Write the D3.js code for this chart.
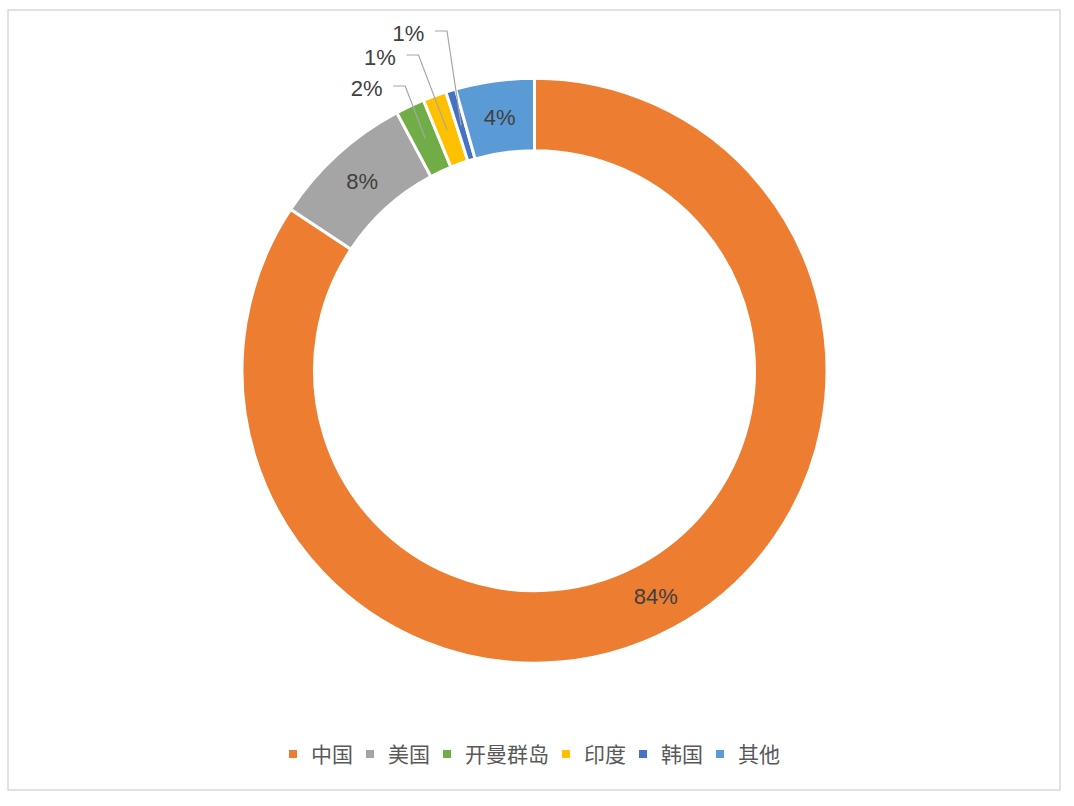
<!DOCTYPE html>
<html>
<head>
<meta charset="utf-8">
<script src="https://cdn.jsdelivr.net/npm/d3@7"></script>
<style>
  html, body { margin: 0; padding: 0; background: #ffffff; }
  svg { display: block; }
</style>
</head>
<body>
<svg id="chart" width="1074" height="806"></svg>
<script>
// ---- data ----
const categories = ["中国", "美国", "开曼群岛", "印度", "韩国", "其他"];
const values = [84.3, 7.9, 1.6, 1.3, 0.55, 4.35];
const colors = ["#ED7D31", "#A5A5A5", "#70AD47", "#FFC000", "#4472C4", "#5B9BD5"];
// which slices use leader lines (outside labels)
const leaderSlices = [2, 3, 4];
// ---- layout ----
const W = 1074, H = 806;
const cx = 534.5, cy = 370.7;
const outerR = 292.5, innerR = 220;
const labelR = 256;
// outside label text centers relative to the donut centre
const leaderLabelOffsets = {
  2: [-167.8, -282.7],
  3: [-154.5, -313.7],
  4: [-126.0, -337.7]
};

const svg = d3.select("#chart");
svg.append("rect").attr("width", W).attr("height", H).attr("fill", "#ffffff");
svg.append("rect")
  .attr("x", 8).attr("y", 10).attr("width", 1052).attr("height", 780)
  .attr("fill", "none").attr("stroke", "#d9d9d9").attr("stroke-width", 1.5);

const total = d3.sum(values);
const pie = d3.pie().sort(null).value(d => d)(values);
const arc = d3.arc().innerRadius(innerR).outerRadius(outerR);
const labelArc = d3.arc().innerRadius(labelR).outerRadius(labelR);
const fmt = v => Math.round(v / total * 100) + "%";

const g = svg.append("g").attr("transform", `translate(${cx},${cy})`);
g.selectAll("path.slice").data(pie).join("path")
  .attr("class", "slice")
  .attr("d", arc)
  .attr("fill", (d, i) => colors[i])
  .attr("stroke", "#ffffff")
  .attr("stroke-width", 3)
  .attr("stroke-linejoin", "miter");

const fontFam = "'Liberation Sans', Arial, Helvetica, sans-serif";
const fs = 22;

// inside labels
g.selectAll("text.inlabel").data(pie.filter((d, i) => !leaderSlices.includes(i))).join("text")
  .attr("class", "inlabel")
  .attr("x", d => labelArc.centroid(d)[0])
  .attr("y", d => labelArc.centroid(d)[1])
  .attr("dy", "0.36em")
  .attr("text-anchor", "middle")
  .attr("font-family", fontFam)
  .attr("font-size", fs)
  .attr("fill", "#404040")
  .text(d => fmt(d.value));

// leader labels
leaderSlices.forEach(i => {
  const d = pie[i];
  const [tx, ty] = leaderLabelOffsets[i];
  const [ex, ey] = labelArc.centroid(d);
  const sx = tx + 26.5, sy = ty - 2;
  const mx = sx + 12;
  g.append("polyline")
    .attr("points", `${sx},${sy} ${mx},${sy} ${ex},${ey}`)
    .attr("fill", "none")
    .attr("stroke", "#a6a6a6")
    .attr("stroke-width", 1.2);
  g.append("text")
    .attr("x", tx).attr("y", ty)
    .attr("dy", "0.36em")
    .attr("text-anchor", "middle")
    .attr("font-family", fontFam)
    .attr("font-size", fs)
    .attr("fill", "#404040")
    .text(fmt(d.value));
});

// legend
const legendY = 754;
const sq = 8, gapSq = 14, gapItem = 13;
const legend = svg.append("g");
const items = legend.selectAll("g.item").data(categories).join("g").attr("class", "item");
items.append("rect")
  .attr("width", sq).attr("height", sq)
  .attr("y", legendY - sq / 2)
  .attr("fill", (d, i) => colors[i]);
items.append("text")
  .attr("y", legendY)
  .attr("dy", "0.36em")
  .attr("font-family", "'Noto Sans CJK SC', sans-serif")
  .attr("font-size", 21)
  .attr("fill", "#595959")
  .text(d => d);
// position items
let widths = [];
items.each(function() {
  widths.push(d3.select(this).select("text").node().getComputedTextLength());
});
const totalW = d3.sum(widths, w => sq + gapSq + w) + gapItem * (categories.length - 1);
let xpos = cx - totalW / 2;
items.each(function(d, i) {
  const sel = d3.select(this);
  sel.select("rect").attr("x", xpos);
  sel.select("text").attr("x", xpos + sq + gapSq);
  xpos += sq + gapSq + widths[i] + gapItem;
});
</script>
</body>
</html>
